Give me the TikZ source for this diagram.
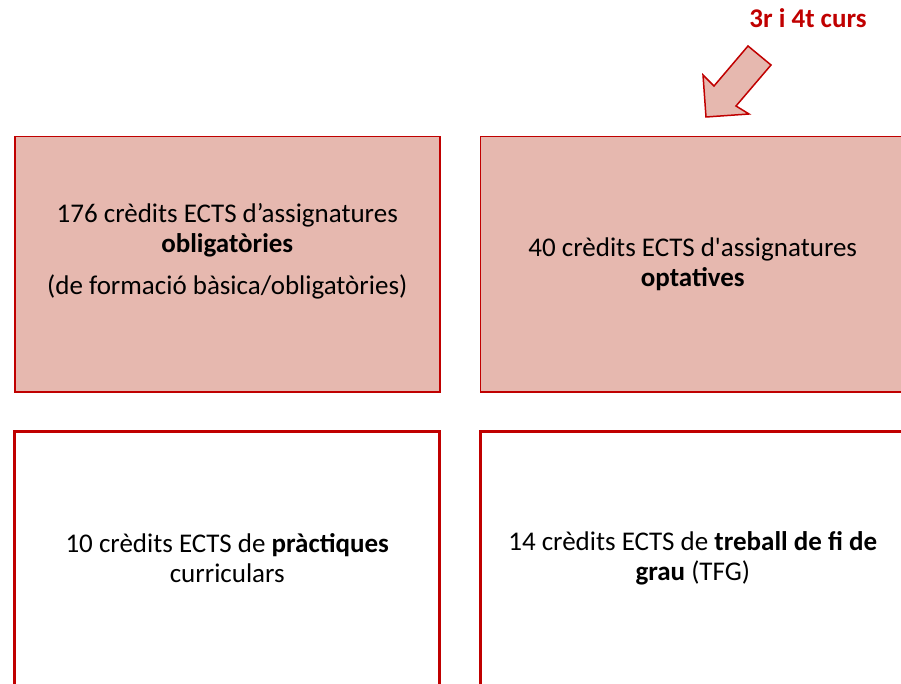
\documentclass[tikz,border=0pt]{standalone}
\usepackage{fontspec}
\setmainfont{Carlito}[Ligatures=TeXOff]
\usetikzlibrary{positioning}
\definecolor{boxred}{HTML}{C00000}
\definecolor{boxfill}{HTML}{E6B8AF}

\begin{document}
\begin{tikzpicture}[x=1pt,y=-1pt]
		\tikzstyle{topbox}=[rectangle,draw=boxred,fill=boxfill,line width=1.5pt,
			minimum width=425pt,minimum height=255pt,align=center,
			font=\fontsize{27}{30}\selectfont];
		\tikzstyle{lowbox}=[topbox,fill=white,line width=3pt];
		\useasboundingbox (0,0) rectangle (901,684);

		\node[topbox,anchor=north west](oblig) at (14,136)
			{176 crèdits ECTS d’assignatures\\ \textbf{obligatòries}\\[12pt]
			(de formació bàsica/obligatòries)\\ \mbox{}};
		\node[topbox,right=39pt of oblig](optat)
			{40 crèdits ECTS d'assignatures\\ \textbf{optatives}};

		\node[lowbox,below=37pt of oblig](pract)
			{10 crèdits ECTS de \textbf{pràctiques}\\ curriculars};
		\node[lowbox,below=37pt of optat](tfg)
			{14 crèdits ECTS de \textbf{treball de fi de}\\ \textbf{grau} (TFG)};

		\node[text=boxred,font=\fontsize{27}{30}\selectfont\bfseries](curs) at (808,18){3r i 4t curs};
		\draw[draw=boxred,fill=boxfill,line width=1.5pt,line join=miter]
			(706,117)--(703,75)--(714,86)--(748,46)--(771,65)--(736,106)--(749,114)--cycle;
	\end{tikzpicture}
\end{document}
